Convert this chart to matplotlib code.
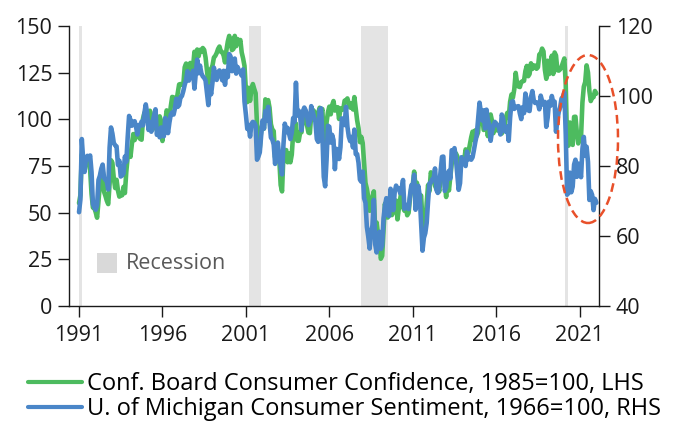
import numpy as np
import matplotlib
matplotlib.use("Agg")
import matplotlib.pyplot as plt
from matplotlib.patches import Ellipse

plt.rcParams['font.family'] = ['Open Sans', 'DejaVu Sans']

# monthly, Jan 1991 - Jan 2022
conf_board = [
    55.1, 59.4, 81.1, 79.4, 76.4, 78.0, 77.7, 76.1, 72.9, 60.1, 52.7, 52.5,
    50.2, 47.3, 56.5, 65.1, 71.9, 72.6, 61.2, 59.0, 56.4, 54.6, 65.6, 78.1,
    76.7, 68.5, 63.2, 67.6, 61.9, 58.6, 59.2, 59.3, 63.8, 60.5, 71.9, 79.8,
    82.6, 79.9, 86.7, 92.1, 88.9, 92.5, 91.3, 90.4, 89.5, 89.1, 100.4, 103.4,
    101.4, 99.4, 100.2, 104.6, 102.0, 94.6, 101.4, 102.4, 97.3, 96.3, 101.6, 99.2,
    88.4, 98.0, 98.4, 104.8, 103.5, 100.1, 107.0, 112.0, 111.8, 107.3, 109.5, 114.2,
    118.7, 118.9, 118.5, 118.5, 127.9, 129.9, 126.3, 127.6, 130.2, 123.4, 128.1, 136.2,
    128.3, 137.4, 133.8, 137.2, 136.3, 138.2, 137.2, 133.1, 126.4, 119.3, 126.4, 126.7,
    128.9, 133.1, 134.0, 135.5, 137.7, 139.0, 136.2, 136.0, 134.2, 130.5, 137.0, 141.7,
    144.7, 140.8, 137.1, 137.7, 144.7, 139.2, 143.0, 140.8, 142.5, 135.8, 132.6, 128.6,
    115.7, 109.2, 116.9, 109.9, 116.1, 118.9, 116.3, 114.0, 97.0, 85.3, 84.9, 94.6,
    97.8, 95.0, 110.7, 108.5, 110.3, 106.3, 97.4, 94.5, 93.7, 79.6, 84.9, 80.7,
    78.8, 64.8, 61.4, 81.0, 83.6, 83.5, 77.0, 81.7, 77.0, 81.1, 92.5, 94.8,
    97.7, 88.5, 88.5, 93.0, 93.1, 102.8, 105.7, 98.7, 96.7, 92.9, 92.6, 102.7,
    105.1, 104.4, 103.0, 97.5, 103.1, 106.2, 103.6, 105.5, 87.5, 85.2, 98.3, 103.8,
    106.8, 102.7, 107.5, 109.8, 104.7, 105.4, 106.5, 100.2, 105.9, 105.1, 105.3, 110.0,
    110.2, 111.2, 108.2, 106.3, 108.5, 105.3, 111.9, 105.6, 99.5, 95.2, 87.8, 90.6,
    87.3, 76.4, 65.9, 62.8, 58.1, 51.0, 51.9, 58.5, 61.4, 38.8, 44.7, 38.6,
    37.4, 25.3, 26.9, 40.8, 54.8, 49.3, 47.4, 54.5, 53.4, 48.7, 50.6, 53.6,
    56.5, 46.4, 52.3, 57.7, 62.7, 52.9, 51.0, 53.2, 48.6, 49.9, 57.8, 63.4,
    64.8, 72.0, 63.8, 66.0, 61.7, 57.6, 59.2, 45.2, 46.4, 40.9, 55.2, 64.8,
    61.5, 71.6, 69.5, 68.7, 64.4, 62.7, 65.4, 61.3, 68.4, 73.1, 71.5, 66.7,
    58.4, 68.0, 61.9, 69.0, 76.2, 82.1, 81.0, 81.8, 80.2, 72.4, 72.0, 77.5,
    79.4, 78.3, 83.9, 82.3, 82.2, 86.4, 90.3, 93.4, 89.0, 94.1, 91.0, 93.1,
    103.8, 98.8, 101.4, 94.3, 94.6, 99.8, 91.0, 101.3, 102.6, 99.1, 92.6, 96.3,
    97.8, 94.0, 96.1, 94.7, 92.4, 97.4, 96.7, 101.1, 103.5, 100.8, 109.4, 113.3,
    111.6, 116.1, 124.9, 119.4, 117.6, 117.3, 120.0, 120.4, 120.6, 125.9, 128.6, 123.1,
    124.3, 130.0, 127.0, 128.8, 128.8, 127.1, 127.9, 134.7, 135.3, 137.9, 136.4, 126.6,
    121.7, 131.4, 124.2, 129.2, 134.1, 124.3, 135.8, 134.2, 126.3, 126.1, 126.8, 128.2,
    130.4, 132.6, 118.8, 85.7, 85.9, 98.3, 91.7, 86.3, 101.3, 101.4, 92.9, 87.1,
    88.9, 90.4, 109.0, 117.5, 120.0, 128.9, 125.1, 115.2, 109.8, 111.6, 111.9, 115.2,
    113.8,
]

michigan = [
    66.8, 70.4, 87.7, 81.8, 78.3, 82.1, 82.9, 82.0, 83.0, 78.3, 69.1, 68.2,
    67.5, 68.8, 76.0, 77.2, 79.2, 80.4, 76.6, 76.1, 75.6, 73.3, 85.3, 91.0,
    89.3, 86.6, 85.9, 85.6, 80.3, 81.5, 77.0, 77.3, 77.9, 82.7, 81.2, 88.2,
    94.3, 93.2, 91.5, 92.6, 92.8, 91.2, 89.0, 91.7, 91.5, 92.7, 91.6, 95.1,
    97.6, 95.1, 90.3, 92.5, 89.8, 92.7, 94.4, 96.2, 88.9, 90.2, 88.2, 91.0,
    89.3, 88.5, 93.7, 92.7, 89.4, 92.4, 94.7, 95.3, 94.7, 96.5, 99.2, 96.9,
    97.4, 99.7, 100.0, 101.4, 103.2, 104.5, 107.1, 104.4, 106.0, 105.6, 107.2, 102.1,
    106.6, 110.4, 106.5, 108.7, 106.5, 105.6, 105.2, 104.4, 100.9, 97.4, 102.7, 100.5,
    103.9, 108.1, 105.7, 104.6, 106.8, 107.3, 106.0, 104.5, 107.2, 103.2, 107.2, 105.4,
    112.0, 111.3, 107.1, 109.2, 110.7, 106.4, 108.3, 107.3, 106.8, 105.8, 107.6, 98.4,
    94.7, 90.6, 91.5, 88.4, 92.0, 92.6, 92.4, 91.5, 81.8, 82.7, 83.9, 88.8,
    93.0, 90.7, 95.7, 93.0, 96.9, 92.4, 88.1, 87.6, 86.1, 80.6, 84.2, 86.7,
    82.4, 79.9, 77.6, 86.0, 92.1, 89.7, 90.9, 89.3, 87.7, 89.6, 93.7, 92.6,
    103.8, 94.4, 95.8, 94.2, 90.2, 95.6, 96.7, 95.9, 94.2, 91.7, 92.8, 97.1,
    95.5, 94.1, 92.6, 87.7, 86.9, 96.0, 96.5, 89.1, 76.9, 74.2, 81.6, 91.5,
    91.2, 86.7, 88.9, 87.4, 79.1, 84.9, 84.7, 82.0, 85.4, 93.6, 92.1, 91.7,
    96.9, 91.3, 88.4, 87.1, 88.3, 85.3, 90.4, 83.4, 83.4, 80.9, 76.1, 75.5,
    78.4, 70.8, 69.5, 62.6, 59.8, 56.4, 61.2, 63.0, 70.3, 57.6, 55.3, 60.1,
    61.2, 56.3, 57.3, 65.1, 68.7, 70.8, 66.0, 65.7, 73.5, 70.6, 67.4, 72.5,
    74.4, 73.6, 73.6, 72.2, 73.6, 76.0, 67.8, 68.9, 68.2, 67.7, 71.6, 74.5,
    74.2, 77.5, 67.5, 69.8, 74.3, 71.5, 63.7, 55.8, 59.5, 60.8, 63.7, 69.9,
    75.0, 75.3, 76.2, 76.4, 79.3, 73.2, 72.3, 74.3, 78.3, 82.6, 82.7, 72.9,
    73.8, 77.6, 78.6, 76.4, 84.5, 84.1, 85.1, 82.1, 77.5, 73.2, 75.1, 82.5,
    81.2, 81.6, 80.0, 84.1, 81.9, 82.5, 81.8, 82.5, 84.6, 86.9, 88.8, 93.6,
    98.1, 95.4, 93.0, 95.9, 90.7, 96.1, 93.1, 91.9, 87.2, 90.0, 91.3, 92.6,
    92.0, 91.7, 91.0, 89.0, 94.7, 93.5, 90.0, 89.8, 91.2, 87.2, 93.8, 98.2,
    98.5, 96.3, 96.9, 97.0, 97.1, 95.0, 93.4, 96.8, 95.1, 100.7, 98.5, 95.9,
    95.7, 99.7, 101.4, 98.8, 98.0, 98.2, 97.9, 96.2, 100.1, 98.6, 97.5, 98.3,
    91.2, 93.8, 98.4, 97.2, 100.0, 98.2, 98.4, 89.8, 93.2, 95.5, 96.8, 99.3,
    99.8, 101.0, 89.1, 71.8, 72.3, 78.1, 72.5, 74.1, 80.4, 81.8, 76.9, 80.7,
    79.0, 76.8, 84.9, 88.3, 82.9, 85.5, 81.2, 70.3, 72.8, 71.7, 67.4, 70.6,
    69.5,
]

# recessions (decimal years), first one clipped at data start
recessions = [(1991.0, 1991.2), (2001.17, 2001.9), (2007.92, 2009.5), (2020.1, 2020.33)]
year_ticks = [1991, 1996, 2001, 2006, 2011, 2016, 2021]

x = 1991 + np.arange(len(conf_board)) / 12.0

green = '#4dbb5f'
blue = '#4a86c8'
ink = '#1a1a1a'

fig = plt.figure(figsize=(6.73, 4.25), dpi=100)
ax = fig.add_axes([69 / 673, 1 - 306 / 425, 530 / 673, 280 / 425])
ax2 = ax.twinx()

for a, b in recessions:
    ax.axvspan(a, b, color='#e4e4e4', lw=0, zorder=0)

ax.plot(x, conf_board, color=green, lw=3.3, solid_capstyle='round')
ax2.plot(x, michigan, color=blue, lw=3.3, solid_capstyle='round')

ax.set_xlim(1990.4, 2022.16)
ax.set_ylim(0, 150)
ax.set_yticks(np.arange(0, 151, 25))
ax2.set_ylim(40, 120)
ax2.set_yticks(np.arange(40, 121, 20))
ax.set_xticks(year_ticks)
ax.set_xticklabels([str(y) for y in year_ticks])

for a in (ax, ax2):
    a.spines['top'].set_visible(False)
    for s in a.spines.values():
        s.set_color(ink)
        s.set_linewidth(1.0)
    a.tick_params(colors=ink, labelsize=15.5, length=8, width=1.0, direction='out', pad=4)
ax.spines['right'].set_visible(False)
ax2.spines['left'].set_visible(False)
ax2.spines['bottom'].set_visible(False)
ax.tick_params(axis='x', pad=6)

# recession key inside plot
ax.scatter([0.0717], [0.152], marker='s', s=190, color='#d9d9d9', lw=0,
           transform=ax.transAxes, clip_on=False)
ax.text(0.107, 0.152, 'Recession', transform=ax.transAxes, va='center', ha='left',
        fontsize=15.5, color='#595959')

# dashed ellipse around 2020-21
ell = Ellipse((588 / 673, 1 - 139 / 425), 60 / 673, 168 / 425, transform=fig.transFigure,
              fill=False, ls=(0, (3.5, 2)), lw=1.8, edgecolor='#e8502a')
fig.add_artist(ell)

# legend below
leg = fig.legend(handles=[ax.lines[0], ax2.lines[0]],
                 labels=['Conf. Board Consumer Confidence, 1985=100, LHS',
                         'U. of Michigan Consumer Sentiment, 1966=100, RHS'],
                 loc='upper left', bbox_to_anchor=(28 / 673, 1 - 372 / 425), frameon=False,
                 fontsize=17, handlelength=2.3, handletextpad=0.22, labelspacing=0.06,
                 borderpad=0, borderaxespad=0)
for h in leg.legend_handles:
    h.set_linewidth(3.0)

fig.savefig('out.png', dpi=100)
